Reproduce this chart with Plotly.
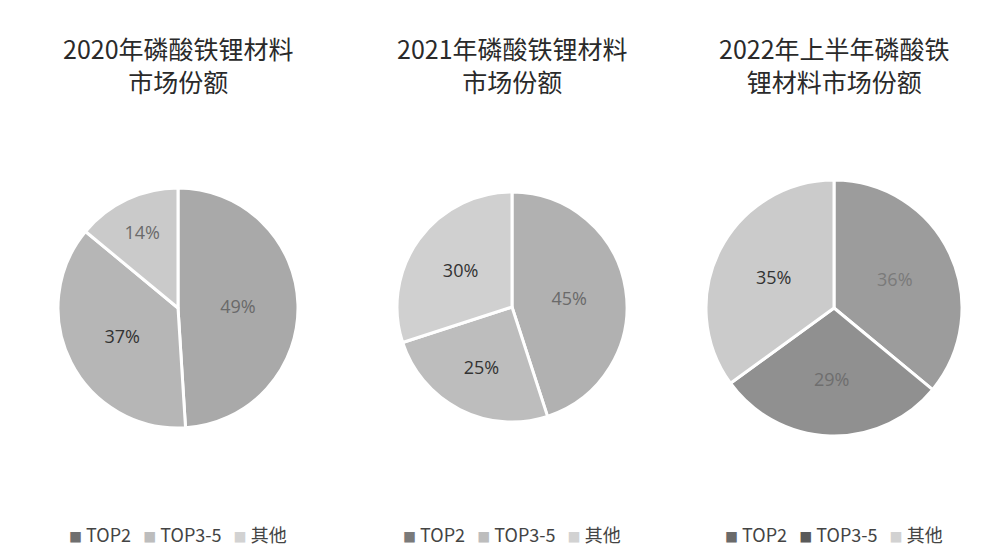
import plotly.graph_objects as go

labels = ["TOP2", "TOP3-5", "其他"]
share_2020 = [49, 37, 14]
share_2021 = [45, 25, 30]
share_2022 = [36, 29, 35]
titles = ["2020年磷酸铁锂材料<br>市场份额", "2021年磷酸铁锂材料<br>市场份额", "2022年上半年磷酸铁<br>锂材料市场份额"]

colors = [
    ["#a9a9a9", "#b6b6b6", "#cacaca"],
    ["#b1b1b1", "#bdbdbd", "#d0d0d0"],
    ["#9c9c9c", "#909090", "#cbcbcb"],
]
legend_colors = [
    ["#6f6f6f", "#bdbdbd", "#d2d2d2"],
    ["#7a7a7a", "#bdbdbd", "#d2d2d2"],
    ["#6a6a6a", "#5a5a5a", "#d2d2d2"],
]
text_colors = [
    ["#6a6a6a", "#333333", "#6a6a6a"],
    ["#6a6a6a", "#333333", "#333333"],
    ["#7a7a7a", "#6e6e6e", "#333333"],
]

W, H = 981, 556
# pixel boxes (x0, x1, y_top, y_bottom) for the three pies
boxes = [(58, 298, 188, 428), (397, 627, 192, 422), (706, 962, 180, 436)]
centers = [(b[0] + b[1]) / 2 for b in boxes]

fig = go.Figure()
datasets = [share_2020, share_2021, share_2022]
for i, vals in enumerate(datasets):
    x0, x1, yt, yb = boxes[i]
    fig.add_trace(go.Pie(
        labels=labels, values=vals, sort=False, direction="clockwise", rotation=0,
        domain=dict(x=[x0 / W, x1 / W], y=[1 - yb / H, 1 - yt / H]),
        marker=dict(colors=colors[i], line=dict(color="white", width=3)),
        texttemplate="%{value}%", textposition="inside", insidetextorientation="horizontal",
        textfont=dict(size=18, color=text_colors[i], family="Open Sans"),
        hoverinfo="label+percent",
        showlegend=False,
    ))

annotations = []
for i, t in enumerate(titles):
    annotations.append(dict(text=t, x=centers[i] / W, y=1 - 65 / H, xref="paper", yref="paper",
                            showarrow=False, xanchor="center", yanchor="middle",
                            font=dict(size=25, color="#2a2a2a", family="Noto Sans CJK SC")))
    parts = []
    for lab, c in zip(labels, legend_colors[i]):
        parts.append(f"<span style='color:{c};font-size:13px'>■</span>&nbsp;{lab}")
    annotations.append(dict(text="&nbsp;&nbsp;&nbsp;".join(parts), x=centers[i] / W, y=1 - 534 / H,
                            xref="paper", yref="paper", showarrow=False,
                            xanchor="center", yanchor="middle",
                            font=dict(size=18, color="#444444", family="Noto Sans CJK SC")))

fig.update_layout(width=W, height=H, margin=dict(l=0, r=0, t=0, b=0),
                  paper_bgcolor="white", plot_bgcolor="white",
                  showlegend=False, annotations=annotations)

fig.write_html("out.html")
